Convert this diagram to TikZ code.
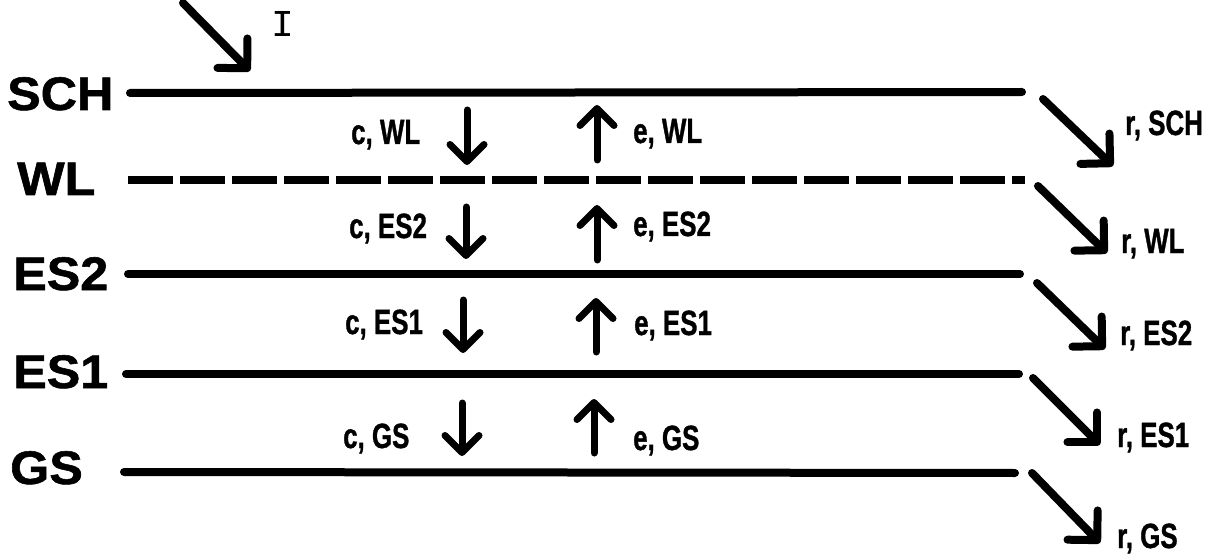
\documentclass[tikz,border=0pt]{standalone}
\usepackage{fontspec}
\setmainfont{Liberation Sans}[BoldFeatures={FakeBold=1.2}]
\newfontfamily\monofnt{Liberation Mono}
\usetikzlibrary{arrows.meta}
\newcommand{\narrowlbl}[1]{\scalebox{0.74}[1]{#1}}
\newcommand{\widelbl}[1]{\scalebox{1.07}[1]{#1}}
\begin{document}
\begin{tikzpicture}[x=1pt,y=-1pt,
  level/.style={line width=8pt,line cap=round},
  wlevel/.style={line width=8pt,dash pattern=on 45pt off 7pt},
  big/.style={inner sep=0pt,anchor=base west,font=\fontsize{47}{47}\selectfont\bfseries},
  small/.style={inner sep=0pt,anchor=base west,font=\fontsize{35}{35}\selectfont\bfseries},
  vflow/.style={line width=7pt,line cap=round,-{Straight Barb[length=17pt,width=34pt,round]}},
  dflow/.style={line width=8pt,line cap=round,-{Straight Barb[length=21pt,width=42pt,round]}}]
\useasboundingbox (0,0) rectangle (1219,559);

% level names
\node[big] (nSCH) at (7,110) {\widelbl{SCH}};
\node[big] (nWL)  at (17,195) {\widelbl{WL}};
\node[big] (nES2) at (13,290) {\widelbl{ES2}};
\node[big] (nES1) at (13,388) {\widelbl{ES1}};
\node[big] (nGS)  at (10,484) {\widelbl{GS}};

% level lines
\coordinate (sA) at (130,93);  \coordinate (sB) at (1022,92);
\coordinate (wA) at (128,180); \coordinate (wB) at (1025,180);
\coordinate (eA) at (128,274); \coordinate (eB) at (1020,274);
\coordinate (fA) at (126,374); \coordinate (fB) at (1019,374);
\coordinate (gA) at (124,472); \coordinate (gB) at (1015,473);
\draw[level] (sA) -- (sB);
\draw[wlevel] (wA) -- (wB);
\draw[level] (eA) -- (eB);
\draw[level] (fA) -- (fB);
\draw[level] (gA) -- (gB);

% input arrow
\coordinate (iS) at (183,3); \coordinate (iT) at (250,71);
\draw[dflow] (iS) -- (iT);
\node[inner sep=0pt,anchor=base west,font=\monofnt\fontsize{38}{38}\selectfont] (nI) at (271,37) {I};

% downward transitions
\coordinate (c1a) at (467,110); \coordinate (c1b) at (467,165);
\coordinate (c2a) at (466,207); \coordinate (c2b) at (466,259);
\coordinate (c3a) at (463,300); \coordinate (c3b) at (463,353);
\coordinate (c4a) at (462,403); \coordinate (c4b) at (462,456);
\draw[vflow] (c1a) -- (c1b);
\draw[vflow] (c2a) -- (c2b);
\draw[vflow] (c3a) -- (c3b);
\draw[vflow] (c4a) -- (c4b);
\node[small] (lc1) at (351,144) {\narrowlbl{c, WL}};
\node[small] (lc2) at (349,238) {\narrowlbl{c, ES2}};
\node[small] (lc3) at (345,334) {\narrowlbl{c, ES1}};
\node[small] (lc4) at (343,448) {\narrowlbl{c, GS}};

% upward transitions
\coordinate (e1a) at (597,160); \coordinate (e1b) at (597,105);
\coordinate (e2a) at (597,260); \coordinate (e2b) at (597,205);
\coordinate (e3a) at (596,352); \coordinate (e3b) at (596,298);
\coordinate (e4a) at (594,453); \coordinate (e4b) at (594,399);
\draw[vflow] (e1a) -- (e1b);
\draw[vflow] (e2a) -- (e2b);
\draw[vflow] (e3a) -- (e3b);
\draw[vflow] (e4a) -- (e4b);
\node[small] (le1) at (633,143) {\narrowlbl{e, WL}};
\node[small] (le2) at (633,236) {\narrowlbl{e, ES2}};
\node[small] (le3) at (634,335) {\narrowlbl{e, ES1}};
\node[small] (le4) at (633,450) {\narrowlbl{e, GS}};

% removal arrows
\coordinate (r1a) at (1043,99);  \coordinate (r1b) at (1113,166);
\coordinate (r2a) at (1038,186); \coordinate (r2b) at (1107,253);
\coordinate (r3a) at (1037,283); \coordinate (r3b) at (1105,349);
\coordinate (r4a) at (1033,378); \coordinate (r4b) at (1100,445);
\coordinate (r5a) at (1032,473); \coordinate (r5b) at (1100,543);
\draw[dflow] (r1a) -- (r1b);
\draw[dflow] (r2a) -- (r2b);
\draw[dflow] (r3a) -- (r3b);
\draw[dflow] (r4a) -- (r4b);
\draw[dflow] (r5a) -- (r5b);
\node[small] (lr1) at (1125,135) {\narrowlbl{r, SCH}};
\node[small] (lr2) at (1121,253) {\narrowlbl{r, WL}};
\node[small] (lr3) at (1120,345) {\narrowlbl{r, ES2}};
\node[small] (lr4) at (1117,447) {\narrowlbl{r, ES1}};
\node[small] (lr5) at (1117,548) {\narrowlbl{r, GS}};
\end{tikzpicture}
\end{document}
